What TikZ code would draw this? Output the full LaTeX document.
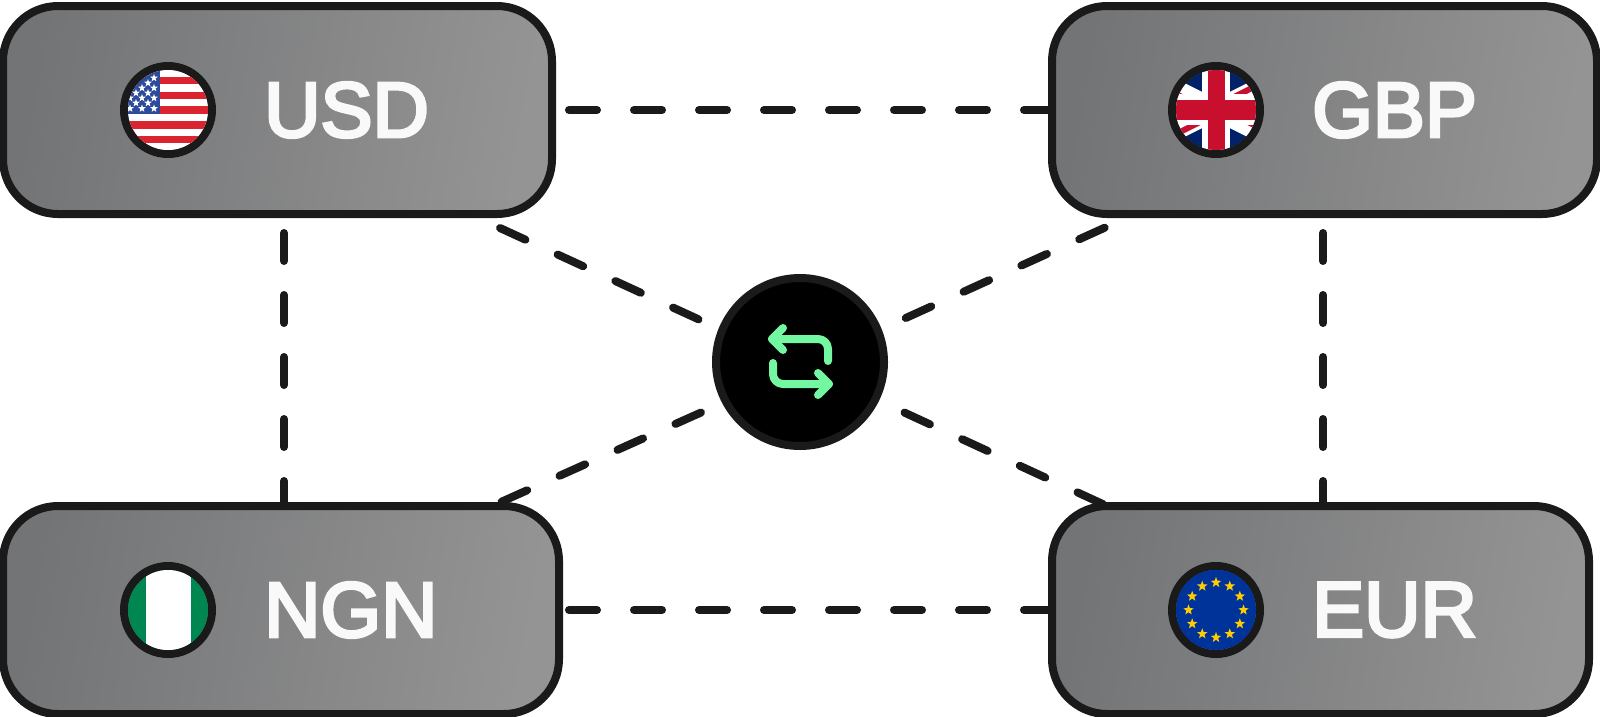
\documentclass[tikz,border=0pt]{standalone}
\usepackage{fontspec}
\setmainfont{Liberation Sans}
\newfontfamily\codefont[FakeBold=4]{Liberation Sans}
\usetikzlibrary{positioning, shapes.geometric, backgrounds}

\definecolor{inkline}{HTML}{1A1A1A}
\definecolor{boxleft}{HTML}{737476}
\definecolor{boxright}{HTML}{949494}
\definecolor{codewhite}{HTML}{F9F9F9}
\definecolor{swapgreen}{HTML}{73F7A0}
\definecolor{usred}{HTML}{DC2430}
\definecolor{usblue}{HTML}{2D4B9B}
\definecolor{uknavy}{HTML}{012169}
\definecolor{ukred}{HTML}{C8102E}
\definecolor{eublue}{HTML}{003399}
\definecolor{eugold}{HTML}{FFCC00}
\definecolor{nggreen}{HTML}{008751}

\tikzset{
    currency/.style={draw=inkline, line width=8pt, rounded corners=55pt, minimum height=208pt,
        inner sep=0pt, outer sep=0pt, left color=boxleft, right color=boxright, shading angle=80},
    flagring/.style={circle, draw=inkline, line width=8pt, minimum size=88pt, inner sep=0pt, outer sep=0pt},
    codetext/.style={text=codewhite, font=\codefont\fontsize{78}{78}\selectfont, inner sep=0pt},
    link/.style={draw=inkline, line width=8pt, line cap=round, dash pattern=on 28pt off 37pt},
    flagstar/.style={star, star points=5, star point ratio=2.4, fill=#1, inner sep=0pt, minimum size=8pt},
    swapline/.style={draw=swapgreen, line width=8pt, line cap=round, line join=round},
}

\begin{document}
\begin{tikzpicture}[x=1pt, y=-1pt, node distance=52pt]
    \useasboundingbox (0,0) rectangle (1600,716);

    % Nodes
    \node[currency, minimum width=549pt] (usd) at (277.5,110) {};
    \node[currency, minimum width=545pt] (gbp) at (1324.5,110) {};
    \node[currency, minimum width=556pt] (ngn) at (281,610) {};
    \node[currency, minimum width=537pt] (eur) at (1320.5,610) {};
    \node[circle, draw=inkline, fill=black, line width=8pt, minimum size=168pt, inner sep=0pt, outer sep=0pt] (hub) at (800,362) {};

    \node[flagring] (usdflag) at (168,110) {};
    \node[flagring] (gbpflag) at (1216,110) {};
    \node[flagring] (ngnflag) at (168,610) {};
    \node[flagring] (eurflag) at (1216,610) {};

    \node[codetext, right=of usdflag] (usdtext) {USD};
    \node[codetext, right=of gbpflag] (gbptext) {GBP};
    \node[codetext, right=of ngnflag] (ngntext) {NGN};
    \node[codetext, right=of eurflag] (eurtext) {EUR};

    % Transitions
    \begin{scope}[on background layer]
        \path[link]
            ([xshift=17]usd.east) edge (gbp.west)
            ([xshift=10]ngn.east) edge (eur.west);
        \path[link, dash pattern=on 28pt off 34pt]
            ([shift={(6.5,19)}]usd.south) edge ([xshift=3]ngn.north)
            ([shift={(-1.5,19)}]gbp.south) edge ([xshift=2.5]eur.north);
        \path[link, dash pattern=on 28pt off 35.5pt]
            ([shift={(-52,14)}]usd.south east) edge ([shift={(0,4)}]hub.center)
            ([shift={(52.7,13.7)}]gbp.south west) edge ([shift={(0,4)}]hub.center)
            ([shift={(-99,50.5)}]hub.center) edge ([xshift=-67]ngn.north east)
            ([shift={(104.5,50.6)}]hub.center) edge ([xshift=55]eur.north west);
    \end{scope}

    % Swap icon
    \begin{scope}[shift={(hub.center)}]
        \draw[swapline] (-17,-34) -- (-28,-23) -- (-17,-12);
        \draw[swapline, rounded corners=10pt] (-28,-23) -- (28,-23) -- (28,-1);
        \draw[swapline] (18,11) -- (29,22) -- (18,33);
        \draw[swapline, rounded corners=10pt] (-27,1) -- (-27,22) -- (29,22);
    \end{scope}

    % Flags
    \begin{scope}[shift={(usdflag.center)}]
        \clip (0,0) circle [radius=40pt];
        \fill[white] (-40,-40) rectangle (40,40);
        \foreach \y in {-33.2,-18.4,-3.6,11.2,26,40.8}
            \fill[usred] (-40,\y) rectangle (40,\y+7.4);
        \fill[usblue] (-40,-40) rectangle (-8,4);
        \foreach \x/\y [count=\n] in {-38/-1.5,-26/-1.5,-14/-1.5,-32/-7,-20/-7,-38/-12,-26/-12,-14/-12,-32/-17,-20/-17,-26/-22,-14/-22,-20/-27,-14/-32}
            \node[flagstar=white] (usstar\n) at (\x,\y) {};
    \end{scope}

    \begin{scope}[shift={(gbpflag.center)}]
        \clip (0,0) circle [radius=40pt];
        \fill[uknavy] (-40,-40) rectangle (40,40);
        \draw[white, line width=20pt] (-80,-40) -- (80,40) (-80,40) -- (80,-40);
        \draw[ukred, line width=6pt] (-80,-36) -- (0,4) (80,-44) -- (0,-4) (80,36) -- (0,-4) (-80,44) -- (0,4);
        \fill[white] (-14,-40) rectangle (14,40);
        \fill[white] (-40,-16) rectangle (40,15);
        \fill[ukred] (-8.5,-40) rectangle (8.5,40);
        \fill[ukred] (-40,-10) rectangle (40,10);
    \end{scope}

    \begin{scope}[shift={(ngnflag.center)}]
        \clip (0,0) circle [radius=40pt];
        \fill[nggreen] (-40,-40) rectangle (40,40);
        \fill[white] (-22.5,-40) rectangle (22.5,40);
    \end{scope}

    \begin{scope}[shift={(eurflag.center)}]
        \fill[eublue] (0,0) circle [radius=40pt];
        \foreach \a [count=\n] in {0,30,...,330}
            \node[flagstar=eugold, minimum size=11pt] (eustar\n) at (\a:27.5) {};
    \end{scope}
\end{tikzpicture}
\end{document}
